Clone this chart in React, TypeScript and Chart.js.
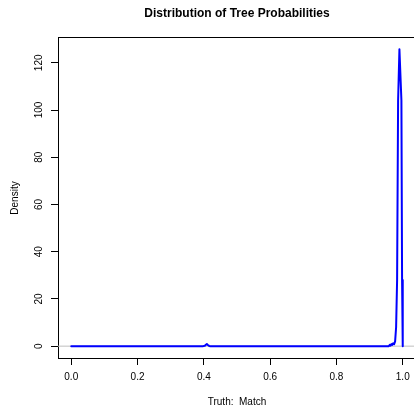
import React, { useEffect, useRef } from "react";
import { Chart, registerables } from "chart.js";

Chart.register(...registerables);

// Density curve (x = probability, y = density)
const densityX = [
  0, 0.1, 0.2, 0.3, 0.398, 0.403, 0.406, 0.409, 0.412, 0.416, 0.42, 0.5, 0.6, 0.7, 0.8, 0.9, 0.955,
  0.958, 0.961, 0.963, 0.966, 0.968, 0.971, 0.974, 0.977, 0.98, 0.983, 0.986, 0.99,
  0.996, 0.998, 1.0,
];
const densityY = [
  0, 0, 0, 0, 0, 0.2, 0.6, 0.9, 0.5, 0.1, 0, 0, 0, 0, 0, 0, 0,
  0, 0.6, 0.2, 0.9, 0.5, 1.2, 0.8, 2, 8, 28, 104, 125.7,
  104, 28, 0,
];

const xTickValues = [0, 0.2, 0.4, 0.6, 0.8, 1.0];
const yTickValues = [0, 20, 40, 60, 80, 100, 120];
const xRange = [-0.04, 1.04];
const yRange = [-5.02, 130.5];

const chartTitle = "Distribution of Tree Probabilities";
const xTitle = "Truth:  Match";
const yTitle = "Density";

const FONT = "'Liberation Sans', Arial, Helvetica, sans-serif";

export default function App() {
  const ref = useRef<HTMLCanvasElement | null>(null);

  useEffect(() => {
    if (!ref.current) return;
    Chart.defaults.font.family = FONT;
    const boxPlugin = {
      id: "rbox",
      afterDraw(chart: any) {
        const { ctx, chartArea } = chart;
        ctx.save();
        ctx.strokeStyle = "#000";
        ctx.lineWidth = 1;
        ctx.beginPath();
        ctx.moveTo(chartArea.left, chartArea.top - 0.5);
        ctx.lineTo(chartArea.right + 0.5, chartArea.top - 0.5);
        ctx.lineTo(chartArea.right + 0.5, chartArea.bottom);
        ctx.stroke();
        ctx.restore();
      },
    };
    const chart = new Chart(ref.current, {
      type: "line",
      data: {
        datasets: [
          {
            data: densityX.map((x, i) => ({ x, y: densityY[i] })),
            borderColor: "#0000FF",
            borderWidth: 2,
            borderJoinStyle: "round",
            borderCapStyle: "round",
            pointRadius: 0,
            tension: 0,
            fill: false,
          },
          {
            data: [
              { x: xRange[0], y: 0 },
              { x: xRange[1], y: 0 },
            ],
            borderColor: "#BEBEBE",
            borderWidth: 1,
            pointRadius: 0,
            tension: 0,
            fill: false,
          },
        ],
      },
      options: {
        responsive: false,
        devicePixelRatio: 1,
        animation: false,
        layout: { padding: { left: 0, right: 4, top: 0, bottom: 0 } },
        plugins: {
          legend: { display: false },
          tooltip: { enabled: false },
          title: {
            display: true,
            text: chartTitle,
            color: "#000",
            fullSize: false,
            font: { size: 12, weight: "bold", family: FONT, lineHeight: 1.2 },
            padding: { top: 6, bottom: 17.6 },
          },
        },
        scales: {
          x: {
            type: "linear",
            min: xRange[0],
            max: xRange[1],
            afterBuildTicks: (s: any) => {
              s.ticks = xTickValues.map((v) => ({ value: v }));
            },
            afterFit: (s: any) => {
              s.height = 49;
            },
            ticks: {
              autoSkip: false,
              maxRotation: 0,
              color: "#000",
              padding: 6,
              font: { size: 10, family: FONT },
              callback: (v: any) => Number(v).toFixed(1),
            },
            grid: { drawOnChartArea: false, drawTicks: true, tickLength: 7, color: "#000" },
            border: { display: true, color: "#000", width: 1 },
            title: {
              display: true,
              text: xTitle,
              color: "#000",
              font: { size: 10, family: FONT, lineHeight: 1 },
              padding: { top: 0, bottom: 0 },
            },
          },
          y: {
            type: "linear",
            min: yRange[0],
            max: yRange[1],
            afterBuildTicks: (s: any) => {
              s.ticks = yTickValues.map((v) => ({ value: v }));
            },
            afterFit: (s: any) => {
              s.width = 58;
            },
            ticks: {
              autoSkip: false,
              minRotation: 90,
              maxRotation: 90,
              crossAlign: "center",
              color: "#000",
              padding: 3.5,
              font: { size: 10, family: FONT },
              callback: (v: any) => String(v),
            },
            grid: { drawOnChartArea: false, drawTicks: true, tickLength: 7, color: "#000" },
            border: { display: true, color: "#000", width: 1 },
            title: {
              display: true,
              text: yTitle,
              color: "#000",
              font: { size: 10, family: FONT, lineHeight: 1.2 },
              padding: { top: 9, bottom: 0 },
            },
          },
        },
      },
      plugins: [boxPlugin],
    } as any);
    return () => chart.destroy();
  }, []);

  return (
    <div
      style={{
        position: "fixed",
        left: 0,
        top: 0,
        width: 414,
        height: 407,
        overflow: "hidden",
        background: "#fff",
      }}
    >
      <canvas ref={ref} width={420} height={407} style={{ display: "block", width: 420, height: 407 }} />
    </div>
  );
}
